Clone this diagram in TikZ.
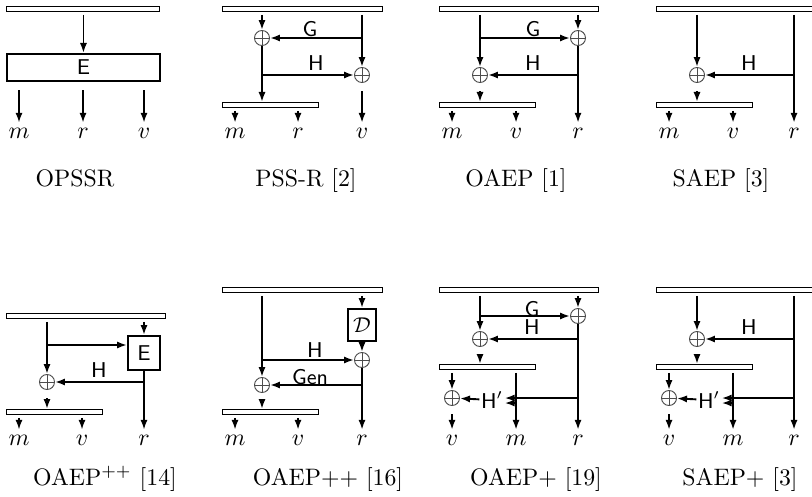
\documentclass[tikz,border=0pt]{standalone}
\usetikzlibrary{arrows.meta}
\newlength\pxu
\setlength\pxu{0.42pt}
\tikzset{
  bar/.style={draw, semithick, rectangle, inner sep=0pt, minimum height=5\pxu, anchor=north west},
  xor/.style={circle, draw=black!70, line width=0.4pt, inner sep=0pt, minimum size=15\pxu,
    path picture={\draw[black!70, line width=0.4pt]
      (path picture bounding box.north) -- (path picture bounding box.south)
      (path picture bounding box.west) -- (path picture bounding box.east);}},
  fnbox/.style={draw, thick, rectangle, inner sep=0pt, font=\small\sffamily},
  hlab/.style={font=\small\sffamily, inner sep=0.5pt},
  outlab/.style={anchor=base, inner sep=1pt, text height=1.2ex, text depth=0pt},
  subcap/.style={anchor=base},
  flow/.style={thick, -{Latex[length=4.2pt,width=3pt]}},
  fromb/.style={flow, shorten <=1pt},
  tip/.style={flow, shorten <=3.5pt}
}
\begin{document}
\begin{tikzpicture}[x=0.42pt, y=-0.42pt]
  \useasboundingbox (0,0) rectangle (812,496);
  % OPSSR
  \begin{scope}[shift={(6,6)}]
  \node[bar, minimum width=153\pxu] (a0) at (0,0) {};
  \node[fnbox, minimum width=153\pxu, minimum height=27\pxu, anchor=north west] (aE) at (0,47) {E};
  \node[outlab] (am) at (13,132) {$m$};
  \node[outlab] (ar) at (77,132) {$r$};
  \node[outlab] (av) at (138,132) {$v$};
  \draw[fromb] (a0.south -| aE) -- (aE.north);
  \draw[tip] (aE.south -| am) -- (am.north);
  \draw[tip] (aE.south -| ar) -- (ar.north);
  \draw[tip] (aE.south -| av) -- (av.north);
  \end{scope}
  % PSS-R
  \begin{scope}[shift={(222,6)}]
  \node[bar, minimum width=160\pxu] (b0) at (0,0) {};
  \node[xor] (bx1) at (40,32) {};
  \node[xor] (bx2) at (140,69) {};
  \node[bar, minimum width=96\pxu] (b1) at (0,96) {};
  \coordinate (bg) at (140,32);
  \coordinate (bh) at (40,69);
  \node[hlab] (bG) at (88,23) {G};
  \node[hlab] (bH) at (94,57) {H};
  \node[outlab] (bm) at (13,132) {$m$};
  \node[outlab] (br) at (76,132) {$r$};
  \node[outlab] (bv) at (140,132) {$v$};
  \draw[fromb] (b0.south -| bx1) -- (bx1);
  \draw[fromb] (b0.south -| bx2) -- (bx2);
  \draw[flow] (bg) -- (bx1);
  \draw[flow] (bx1) -- (b1.north -| bx1);
  \draw[flow] (bh) -- (bx2);
  \draw[fromb] (b1.south -| bm) -- (bm.north);
  \draw[fromb] (b1.south -| br) -- (br.north);
  \draw[tip] (bx2) -- (bv.north);
  \end{scope}
  % OAEP
  \begin{scope}[shift={(439,6)}]
  \node[bar, minimum width=159\pxu] (c0) at (0,0) {};
  \node[xor] (cx1) at (139,32) {};
  \node[xor] (cx2) at (41,69) {};
  \node[bar, minimum width=96\pxu] (c1) at (0,96) {};
  \coordinate (cg) at (41,32);
  \coordinate (ch) at (139,69);
  \node[hlab] (cG) at (94,23) {G};
  \node[hlab] (cH) at (94,57) {H};
  \node[outlab] (cm) at (13,132) {$m$};
  \node[outlab] (cv) at (77,132) {$v$};
  \node[outlab] (cr) at (139,132) {$r$};
  \draw[fromb] (c0.south -| cx1) -- (cx1);
  \draw[fromb] (c0.south -| cx2) -- (cx2);
  \draw[flow] (cg) -- (cx1);
  \draw[flow] (cx1) -- (cr.north);
  \draw[flow] (ch) -- (cx2);
  \draw[tip] (cx2) -- (c1.north -| cx2);
  \draw[fromb] (c1.south -| cm) -- (cm.north);
  \draw[fromb] (c1.south -| cv) -- (cv.north);
  \end{scope}
  % SAEP
  \begin{scope}[shift={(656,6)}]
  \node[bar, minimum width=160\pxu] (d0) at (0,0) {};
  \node[xor] (dx) at (41,69) {};
  \node[bar, minimum width=96\pxu] (d1) at (0,96) {};
  \coordinate (dh) at (138,69);
  \node[hlab] (dH) at (93,57) {H};
  \node[outlab] (dm) at (13,132) {$m$};
  \node[outlab] (dv) at (77,132) {$v$};
  \node[outlab] (dr) at (138,132) {$r$};
  \draw[fromb] (d0.south -| dx) -- (dx);
  \draw[fromb] (d0.south -| dr) -- (dr.north);
  \draw[flow] (dh) -- (dx);
  \draw[tip] (dx) -- (d1.north -| dx);
  \draw[fromb] (d1.south -| dm) -- (dm.north);
  \draw[fromb] (d1.south -| dv) -- (dv.north);
  \end{scope}
  % OAEP^{++} [14]
  \begin{scope}[shift={(6,313)}]
  \node[bar, minimum width=159\pxu] (e0) at (0,0) {};
  \node[fnbox, minimum width=32\pxu, minimum height=34\pxu] (eE) at (138,40) {E};
  \node[xor] (ex) at (41,69) {};
  \node[bar, minimum width=96\pxu] (e1) at (0,96) {};
  \coordinate (eb) at (41,32);
  \coordinate (eh) at (138,69);
  \node[hlab] (eH) at (93,57) {H};
  \node[outlab] (em) at (13,132) {$m$};
  \node[outlab] (ev) at (76,132) {$v$};
  \node[outlab] (er) at (138,132) {$r$};
  \draw[fromb] (e0.south -| eE) -- (eE.north);
  \draw[fromb] (e0.south -| ex) -- (ex);
  \draw[flow] (eb) -- (eb -| eE.west);
  \draw[flow] (eE.south) -- (er.north);
  \draw[flow] (eh) -- (ex);
  \draw[tip] (ex) -- (e1.north -| ex);
  \draw[fromb] (e1.south -| em) -- (em.north);
  \draw[fromb] (e1.south -| ev) -- (ev.north);
  \end{scope}
  % OAEP++ [16]
  \begin{scope}[shift={(222,287)}]
  \node[bar, minimum width=160\pxu] (f0) at (0,0) {};
  \node[fnbox, minimum width=28\pxu, minimum height=32\pxu] (fD) at (140,38) {$\mathcal{D}$};
  \node[xor] (fx1) at (140,73) {};
  \node[xor] (fx2) at (40,98) {};
  \node[bar, minimum width=96\pxu] (f1) at (0,122) {};
  \coordinate (fh) at (40,73);
  \coordinate (fg) at (140,98);
  \node[hlab] (fH) at (93,63) {H};
  \node[hlab] (fGen) at (88,90) {Gen};
  \node[outlab] (fm) at (13,158) {$m$};
  \node[outlab] (fv) at (76,158) {$v$};
  \node[outlab] (fr) at (140,158) {$r$};
  \draw[fromb] (f0.south -| fD) -- (fD.north);
  \draw[fromb] (f0.south -| fx2) -- (fx2);
  \draw[flow] (fD.south) -- (fx1);
  \draw[flow] (fh) -- (fx1);
  \draw[flow] (fx1) -- (fr.north);
  \draw[flow] (fg) -- (fx2);
  \draw[tip] (fx2) -- (f1.north -| fx2);
  \draw[fromb] (f1.south -| fm) -- (fm.north);
  \draw[fromb] (f1.south -| fv) -- (fv.north);
  \end{scope}
  % OAEP+ [19]
  \begin{scope}[shift={(439,287)}]
  \node[bar, minimum width=159\pxu] (g0) at (0,0) {};
  \node[xor] (gx1) at (139,29) {};
  \node[xor] (gx2) at (41,52) {};
  \node[bar, minimum width=96\pxu] (g1) at (0,77) {};
  \node[xor] (gx3) at (13,111) {};
  \node[hlab] (gHp) at (53,113) {H$'$};
  \coordinate (gg) at (41,29);
  \coordinate (gh) at (139,52);
  \coordinate (gr1) at (139,111);
  \coordinate (gm1) at (77,116);
  \node[hlab] (gG) at (93,22) {G};
  \node[hlab] (gH) at (93,40) {H};
  \node[outlab] (gv) at (13,158) {$v$};
  \node[outlab] (gm) at (77,158) {$m$};
  \node[outlab] (gr) at (139,158) {$r$};
  \draw[fromb] (g0.south -| gx1) -- (gx1);
  \draw[fromb] (g0.south -| gx2) -- (gx2);
  \draw[flow] (gg) -- (gx1);
  \draw[flow] (gx1) -- (gr.north);
  \draw[flow] (gh) -- (gx2);
  \draw[tip] (gx2) -- (g1.north -| gx2);
  \draw[fromb] (g1.south -| gx3) -- (gx3);
  \draw[tip] (gx3) -- (gv.north);
  \draw[fromb] (g1.south -| gm) -- (gm.north);
  \draw[flow] (gHp) -- (gx3);
  \draw[flow] (gr1) -- (gr1 -| gHp.east);
  \draw[flow] (gm1) -- (gm1 -| gHp.east);
  \end{scope}
  % SAEP+ [3]
  \begin{scope}[shift={(656,287)}]
  \node[bar, minimum width=160\pxu] (h0) at (0,0) {};
  \node[xor] (hx2) at (41,52) {};
  \node[bar, minimum width=96\pxu] (h1) at (0,77) {};
  \node[xor] (hx3) at (13,111) {};
  \node[hlab] (hHp) at (53,113) {H$'$};
  \coordinate (hh) at (138,52);
  \coordinate (hr1) at (138,111);
  \coordinate (hm1) at (77,116);
  \node[hlab] (hH) at (93,40) {H};
  \node[outlab] (hv) at (13,158) {$v$};
  \node[outlab] (hm) at (77,158) {$m$};
  \node[outlab] (hr) at (138,158) {$r$};
  \draw[fromb] (h0.south -| hx2) -- (hx2);
  \draw[fromb] (h0.south -| hr) -- (hr.north);
  \draw[flow] (hh) -- (hx2);
  \draw[tip] (hx2) -- (h1.north -| hx2);
  \draw[fromb] (h1.south -| hx3) -- (hx3);
  \draw[tip] (hx3) -- (hv.north);
  \draw[fromb] (h1.south -| hm) -- (hm.north);
  \draw[flow] (hHp) -- (hx3);
  \draw[flow] (hr1) -- (hr1 -| hHp.east);
  \draw[flow] (hm1) -- (hm1 -| hHp.east);
  \end{scope}
  % captions
  \node[subcap] (capA) at (75,186) {OPSSR};
  \node[subcap] (capB) at (306,186) {PSS-R [2]};
  \node[subcap] (capC) at (516,186) {OAEP [1]};
  \node[subcap] (capD) at (721,186) {SAEP [3]};
  \node[subcap] (capE) at (105,485) {OAEP$^{++}$ [14]};
  \node[subcap] (capF) at (328,485) {OAEP++ [16]};
  \node[subcap] (capG) at (536,485) {OAEP+ [19]};
  \node[subcap] (capH) at (740,485) {SAEP+ [3]};
\end{tikzpicture}
\end{document}
